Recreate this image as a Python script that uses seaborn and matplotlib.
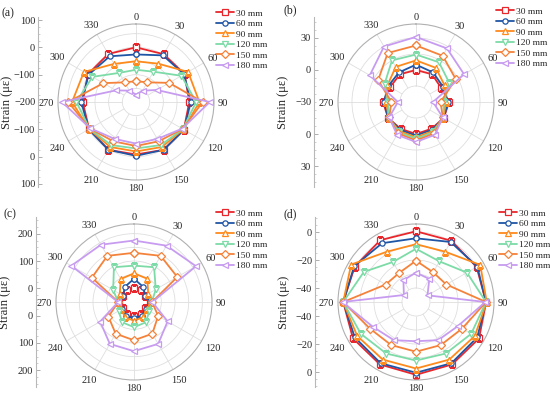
import numpy as np
import matplotlib
matplotlib.use("Agg")
import matplotlib.pyplot as plt
import seaborn as sns

sns.set_theme(style="white")
plt.rcParams["font.family"] = ["Liberation Serif", "DejaVu Serif"]

angles = [0, 30, 60, 90, 120, 150, 180, 210, 240, 270, 300, 330]
depths = ["30 mm", "60 mm", "90 mm", "120 mm", "150 mm", "180 mm"]
colors = ["#e8262c", "#1f55a5", "#ff8a1c", "#7cdba6", "#f5823a", "#c79cf0"]
markers = ["s", "o", "^", "v", "D", "<"]

#%% strain values (με) read per angle
a_30 = [0, 2, 5, -5, 2, 2, -8, 2, -2, -5, 3, 3]
a_60 = [-26, -3, 3, 0, 3, 2, -3, 2, 0, 0, 0, -7]
a_90 = [-51, -38, 20, 32, 0, -10, -19, -10, -2, 34, 20, -39]
a_120 = [-82, -72, -8, 20, -2, -18, -30, -18, -4, 18, -16, -77]
a_150 = [-124, -117, -60, 44, -3, -34, -39, -34, -5, 48, -62, -117]
a_180 = [-173, -152, -112, 70, -5, -44, -48, -44, -7, 71, -115, -152]

b_30 = [0, 0, -3, 1, 0, -1, 0, -1, 0, 1, -2, 0]
b_60 = [5, 2, -1, 0, 0, 0, 1.5, 0, 0, 0, 0, 2]
b_90 = [9, 7, 1, -2, -0.5, 1.5, 3, 1.5, -0.5, -2, 1, 8]
b_120 = [14.5, 13, 6, -4, -0.5, 2.5, 4.5, 2.5, -0.5, -4, 4, 15]
b_150 = [23, 20, 13, -7, -1, 4, 6, 4, -1, -7, 11, 23]
b_180 = [31, 28, 22, -14, -1, 5.5, 7.5, 5.5, -1, -13, 20, 30]

c_30 = [3, 0, -5, 10, -3, 2, 3, 2, -3, 5, -5, 0]
c_60 = [35, 15, -3, 12, 0, 8, 10, 8, 0, 8, -3, 15]
c_90 = [55, 48, 10, 14, 3, 15, 18, 15, 3, 8, 10, 47]
c_120 = [83, 97, 42, 15, 15, 36, 42, 36, 15, 8, 38, 97]
c_150 = [130, 145, 133, 16, 52, 84, 90, 84, 58, 8, 128, 145]
c_180 = [175, 188, 212, 17, 92, 127, 130, 127, 93, 8, 215, 192]

d_30 = [0.5, 0.5, 0, 0, 2, 1.5, 2, 1.5, 2, 2, 0.5, 1]
d_60 = [-4.5, -0.5, 0.5, 0, 0.5, 0.5, 0.5, 0.5, 0.5, 2, 1, -1.5]
d_90 = [-8.7, -8.5, 3, 0.5, -1.5, -2.5, -2.5, -2.5, -1.5, 2, 3.5, -8.5]
d_120 = [-12, -16.5, -8, 0, -4.5, -7.5, -8.2, -7.5, -4.5, 2, -7, -17]
d_150 = [-20.5, -25.5, -25, 0, -12, -14.5, -14.5, -14.5, -12, 2, -25, -26]
d_180 = [-29, -31, -40.5, -0.5, -15.5, -18.5, -22, -18.5, -14.5, 2.5, -40, -32]

# centre value, pixels per unit, tick step and grid step of each panel
panels = {
    "a": {"series": [a_30, a_60, a_90, a_120, a_150, a_180], "rmin": -200, "ppu": 0.2733, "step": 100, "grid": 50},
    "b": {"series": [b_30, b_60, b_90, b_120, b_150, b_180], "rmin": -30, "ppu": 1.067, "step": 30, "grid": 15},
    "c": {"series": [c_30, c_60, c_90, c_120, c_150, c_180], "rmin": -50, "ppu": 0.2733, "step": 100, "grid": 50},
    "d": {"series": [d_30, d_60, d_90, d_120, d_150, d_180], "rmin": -50, "ppu": 1.40, "step": 20, "grid": 10},
}

# layout in pixels: polar centre, left axis x, panel label, legend corner
W, H = 550, 399
R_PX = 78      # radius of the polar circle
AX_PX = 85     # half length of the left strain axis
layout = {
    "a": {"centre": (136, 102), "axis_x": 38, "tag": (2, 13), "leg": (216, 9)},
    "b": {"centre": (416, 102), "axis_x": 314, "tag": (284, 10), "leg": (496, 7)},
    "c": {"centre": (134, 302), "axis_x": 36, "tag": (4, 214), "leg": (216, 209)},
    "d": {"centre": (416, 302), "axis_x": 315, "tag": (283, 214), "leg": (499, 209)},
}

fig = plt.figure(figsize=(5.5, 3.99), dpi=100)

theta = np.deg2rad(angles + [360])
FS = 7.5
em = FS * 100 / 72


def fmt(v):
    return str(int(round(v))).replace("-", "\u2212")


for key, p in panels.items():
    lay = layout[key]
    cx, cy = lay["centre"]
    rmin, ppu = p["rmin"], p["ppu"]
    rmax = rmin + R_PX / ppu

    rect = [(cx - R_PX) / W, 1 - (cy + R_PX) / H, 2 * R_PX / W, 2 * R_PX / H]
    ax = fig.add_axes(rect, projection="polar")
    ax.set_theta_zero_location("N")
    ax.set_theta_direction(-1)

    # radial grid lines start at the first ring, as in the original
    first_ring = rmin + p["grid"]
    ax.vlines(np.deg2rad(angles), first_ring, rmax, color="#dedede", linewidth=0.6, zorder=0.5)

    for vals, lab, c, m in zip(p["series"], depths, colors, markers):
        sns.lineplot(x=theta, y=list(vals) + [vals[0]], ax=ax, color=c,
                     marker=m, markersize=3.8, markerfacecolor="white",
                     markeredgecolor=c, markeredgewidth=0.9, linewidth=1.3,
                     sort=False, label=lab, legend=False)

    ax.set_ylim(rmin, rmax)
    ax.set_yticks(np.arange(first_ring, rmax - 1e-9, p["grid"]))
    ax.set_yticklabels([])
    ax.set_xticks(np.deg2rad(angles))
    ax.set_xticklabels([])
    ax.yaxis.grid(True, color="#dedede", linewidth=0.6)
    ax.xaxis.grid(False)
    ax.spines["polar"].set_color("#b0b0b0")
    ax.spines["polar"].set_linewidth(0.8)
    ax.set_xlabel("")
    ax.set_ylabel("")

    # angle labels just outside the circle
    for a in angles:
        s = str(a)
        t = np.deg2rad(a)
        w, h = 0.5 * em * len(s), 0.7 * em
        d = R_PX + 4 + 0.5 * w * abs(np.sin(t)) + 0.5 * h * abs(np.cos(t))
        px, py = cx + d * np.sin(t), cy - d * np.cos(t) + 1
        fig.text(px / W, 1 - py / H, s, fontsize=FS, ha="center", va="center")

    ax.legend(loc="upper left", bbox_to_anchor=(lay["leg"][0] / W, 1 - lay["leg"][1] / H),
              bbox_transform=fig.transFigure, frameon=False, fontsize=6.8,
              handlelength=1.9, handletextpad=0.25, labelspacing=0.2,
              borderpad=0, borderaxespad=0)

    # mirrored radial scale drawn as a vertical axis on the left
    span = AX_PX / ppu
    ax_r = fig.add_axes([lay["axis_x"] / W, 1 - (cy + AX_PX) / H, 0.001, 2 * AX_PX / H])
    ax_r.set_ylim(-span, span)
    ax_r.set_xticks([])
    for s in ["top", "right", "bottom"]:
        ax_r.spines[s].set_visible(False)
    ax_r.spines["left"].set_color("#b8b8b8")
    ax_r.spines["left"].set_linewidth(0.8)
    ax_r.patch.set_alpha(0)

    step = p["step"]
    vals = np.arange(np.ceil(rmin / step) * step, rmin + span + 1e-9, step)
    ticks = {}
    for v in vals:
        if v - rmin > 1e-9:
            ticks[v - rmin] = fmt(v)
            ticks[rmin - v] = fmt(v)
    pos = sorted(ticks)
    minors = np.arange(np.ceil(rmin / (step / 4)) * step / 4, rmin + span + 1e-9, step / 4)
    mpos = sorted(set([v - rmin for v in minors] + [rmin - v for v in minors]) - set(pos))
    ax_r.set_yticks(pos, [ticks[q] for q in pos])
    ax_r.set_yticks(mpos, minor=True)
    ax_r.tick_params(axis="y", which="major", direction="in", length=3, width=0.6,
                     color="#a0a0a0", labelsize=FS, pad=2, left=True, labelleft=True)
    ax_r.tick_params(axis="y", which="minor", direction="in", length=1.6, width=0.5,
                     color="#bdbdbd", left=True)
    # centre value of the scale (tick at the pole)
    if rmin % step == 0:
        fig.text((lay["axis_x"] - 2.5) / W, 1 - (cy + 0.5) / H, fmt(rmin),
                 fontsize=FS, ha="right", va="center")

    fig.text((lay["axis_x"] - 31) / W, 1 - cy / H, "Strain (\u03bc\u03b5)", fontsize=9,
             rotation=90, ha="center", va="center")
    fig.text(lay["tag"][0] / W, 1 - lay["tag"][1] / H, "(" + key + ")",
             fontsize=8.5, va="center", ha="left")

fig.savefig("out.png", dpi=100)
